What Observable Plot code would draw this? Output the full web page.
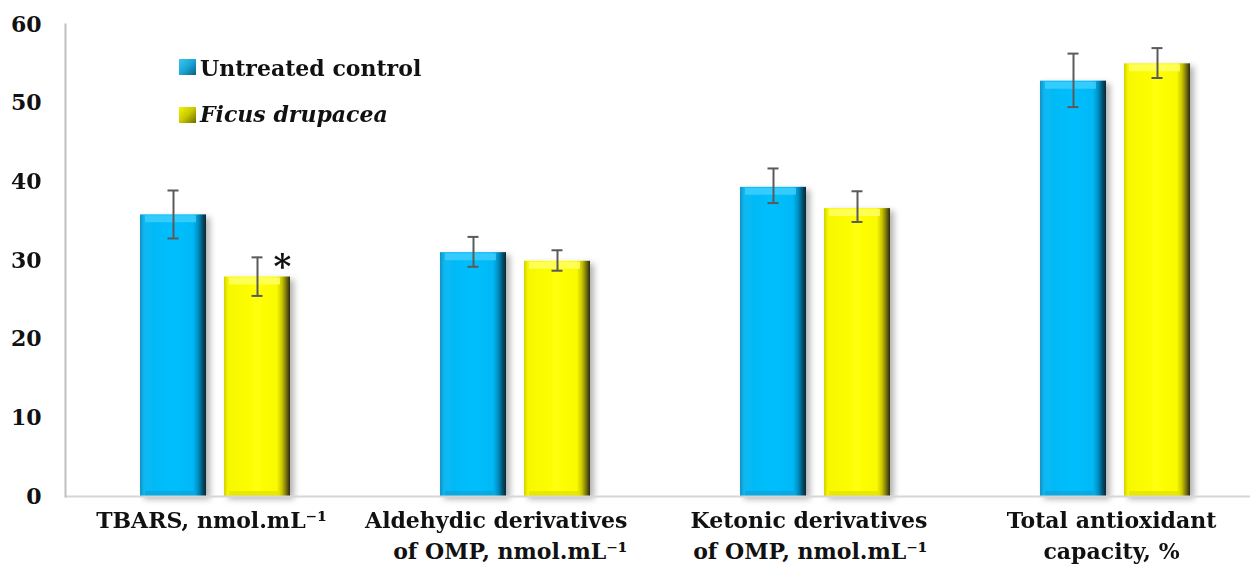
<!DOCTYPE html>
<html><head><meta charset="utf-8">
<script src="https://cdn.jsdelivr.net/npm/d3@7"></script>
<script src="https://cdn.jsdelivr.net/npm/@observablehq/plot@0.6"></script>
<style>
html,body{margin:0;padding:0;background:#fff;}
#wrap{position:relative;width:1250px;height:574px;overflow:hidden;}
#wrap svg text{font-weight:bold;}
.lg{position:absolute;font-family:"DejaVu Serif",serif;font-weight:bold;font-size:22px;line-height:26px;color:#111;white-space:nowrap;}
.sw{position:absolute;width:17px;height:16px;}
</style></head><body><div id="wrap"></div>
<script>
const categories = ["TBARS", "Aldehydic", "Ketonic", "TAC"];
const labelLine1 = ["TBARS, nmol.mL⁻¹", "Aldehydic derivatives", "Ketonic derivatives", "Total antioxidant"];
const labelLine2 = ["", "of OMP, nmol.mL⁻¹", "of OMP, nmol.mL⁻¹", "capacity, %"];
const seriesNames = ["Untreated control", "Ficus drupacea"];
const controlMean = [35.8, 31.0, 39.3, 52.8];
const controlLow  = [32.8, 29.2, 37.3, 49.5];
const controlHigh = [38.9, 33.0, 41.7, 56.3];
const ficusMean = [27.9, 29.9, 36.6, 55.0];
const ficusLow  = [25.5, 28.7, 34.9, 53.2];
const ficusHigh = [30.4, 31.3, 38.8, 57.0];
const ficusMark = ["*", "", "", ""];
const yTicks = [0, 10, 20, 30, 40, 50, 60];

const rows = categories.flatMap((c, i) => [
  {category: c, series: seriesNames[0], value: controlMean[i], low: controlLow[i], high: controlHigh[i], mark: ""},
  {category: c, series: seriesNames[1], value: ficusMean[i], low: ficusLow[i], high: ficusHigh[i], mark: ficusMark[i]}
]);
const labels = categories.map((c, i) => ({category: c, line1: labelLine1[i], line2: labelLine2[i]}));
const rightAligned = new Set(["Aldehydic", "Ketonic"]);

const fills = ["url(#gBlue)", "url(#gYellow)"];
const topBevel = ["#45d2ff", "#ffff70"];
const botBevel = ["#0aa6dc", "#e4e400"];
const font = {fontFamily: "DejaVu Serif", fontWeight: "bold", fontSize: 22, fill: "#111"};

const marks = [];
seriesNames.forEach((s, k) => {
  const d = rows.filter(r => r.series === s);
  marks.push(Plot.barY(d, {fx: "category", x: "series", y: "value", fill: fills[k], inset: 0}));
});
seriesNames.forEach((s, k) => {
  const d = rows.filter(r => r.series === s);
  marks.push(Plot.tickY(d, {fx: "category", x: "series", y: "value", stroke: topBevel[k], strokeWidth: 7, dy: 4, insetLeft: 5, insetRight: 10, strokeOpacity: 0.75}));
  marks.push(Plot.tickY(d, {fx: "category", x: "series", y: 0, stroke: botBevel[k], strokeWidth: 5, dy: -3, insetLeft: 5, insetRight: 10, strokeOpacity: 0.8}));
});
marks.push(
  Plot.ruleY([0], {stroke: "#d6d6d6", strokeWidth: 2}),
  Plot.frame({anchor: "left", stroke: "#c0c0c0", strokeWidth: 2, facetAnchor: "left"}),
  Plot.ruleX(rows, {fx: "category", x: "series", y1: "low", y2: "high", stroke: "#5a5a5a", strokeWidth: 2}),
  Plot.tickY(rows, {fx: "category", x: "series", y: "low", stroke: "#5a5a5a", strokeWidth: 2, insetLeft: 27.5, insetRight: 27.5}),
  Plot.tickY(rows, {fx: "category", x: "series", y: "high", stroke: "#5a5a5a", strokeWidth: 2, insetLeft: 27.5, insetRight: 27.5}),
  Plot.text(rows.filter(r => r.mark), {fx: "category", x: "series", y: "high", text: "mark", dx: 25, dy: 10, ...font, fontSize: 34}),
  Plot.axisY({ticks: yTicks, tickSize: 0, tickPadding: 24, label: null, ...font, fontSize: 22}),
  Plot.text(labels.filter(d => !rightAligned.has(d.category)), {fx: "category", text: "line1", frameAnchor: "bottom", dy: 31, dx: -4, ...font}),
  Plot.text(labels.filter(d => !rightAligned.has(d.category)), {fx: "category", text: "line2", frameAnchor: "bottom", dy: 62, dx: -4, ...font}),
  Plot.text(labels.filter(d => rightAligned.has(d.category)), {fx: "category", text: "line1", frameAnchor: "bottom", dy: 31, dx: 112, textAnchor: "end", ...font}),
  Plot.text(labels.filter(d => rightAligned.has(d.category)), {fx: "category", text: "line2", frameAnchor: "bottom", dy: 62, dx: 112, textAnchor: "end", ...font})
);

const chart = Plot.plot({
  width: 1250,
  height: 574,
  marginLeft: 65,
  marginRight: 0,
  marginTop: 24,
  marginBottom: 78,
  style: {fontFamily: "DejaVu Serif", fontWeight: "bold", fontSize: "22px", color: "#111", background: "#fff", overflow: "hidden"},
  fx: {domain: categories, range: [65, 1265], padding: 0, axis: null},
  x: {domain: seriesNames, paddingInner: 0.212, paddingOuter: 0.871, axis: null},
  y: {domain: [0, 60], axis: null},
  marks
});

const svg = chart.tagName.toLowerCase() === "svg" ? chart : chart.querySelector("svg");
const ns = "http://www.w3.org/2000/svg";
const defs = document.createElementNS(ns, "defs");
defs.innerHTML = `
<linearGradient id="gBlue" x1="0" x2="1" y1="0" y2="0">
  <stop offset="0" stop-color="#1590c0"/><stop offset="0.06" stop-color="#08b8f2"/>
  <stop offset="0.5" stop-color="#02befd"/><stop offset="0.8" stop-color="#02b9f6"/>
  <stop offset="0.88" stop-color="#0391c5"/><stop offset="0.95" stop-color="#02506e"/>
  <stop offset="1" stop-color="#0b2430"/>
</linearGradient>
<linearGradient id="gYellow" x1="0" x2="1" y1="0" y2="0">
  <stop offset="0" stop-color="#d2d200"/><stop offset="0.06" stop-color="#f7f700"/>
  <stop offset="0.5" stop-color="#ffff08"/><stop offset="0.8" stop-color="#fafa00"/>
  <stop offset="0.88" stop-color="#c8c400"/><stop offset="0.95" stop-color="#6e6a10"/>
  <stop offset="1" stop-color="#2c2a10"/>
</linearGradient>
<filter id="barShadow" x="-20%" y="-10%" width="150%" height="130%">
  <feDropShadow dx="4" dy="3" stdDeviation="3" flood-color="#000" flood-opacity="0.3"/>
</filter>`;
svg.insertBefore(defs, svg.firstChild);
svg.querySelectorAll('g[aria-label="bar"]').forEach(g => g.setAttribute("filter", "url(#barShadow)"));
svg.querySelectorAll("text").forEach(t => {
  t.style.fontWeight = "bold";
  t.style.fontFamily = "'DejaVu Serif', serif";
});

const wrap = document.getElementById("wrap");
wrap.appendChild(chart);

const legendItems = [
  {name: seriesNames[0], italic: false, swTop: 59, txtTop: 55, bg: "linear-gradient(135deg,#3cc6f0 0%,#1aa6d6 50%,#0b5f82 100%)"},
  {name: seriesNames[1], italic: true, swTop: 107, txtTop: 101, bg: "linear-gradient(135deg,#f4f400 0%,#c8c800 50%,#6b6a00 100%)"}
];
legendItems.forEach(it => {
  const sw = document.createElement("div");
  sw.className = "sw";
  sw.style.left = "179px"; sw.style.top = it.swTop + "px"; sw.style.background = it.bg;
  wrap.appendChild(sw);
  const t = document.createElement("div");
  t.className = "lg";
  t.style.left = "200px"; t.style.top = it.txtTop + "px";
  if (it.italic) t.style.fontStyle = "italic";
  t.textContent = it.name;
  wrap.appendChild(t);
});
</script></body></html>
